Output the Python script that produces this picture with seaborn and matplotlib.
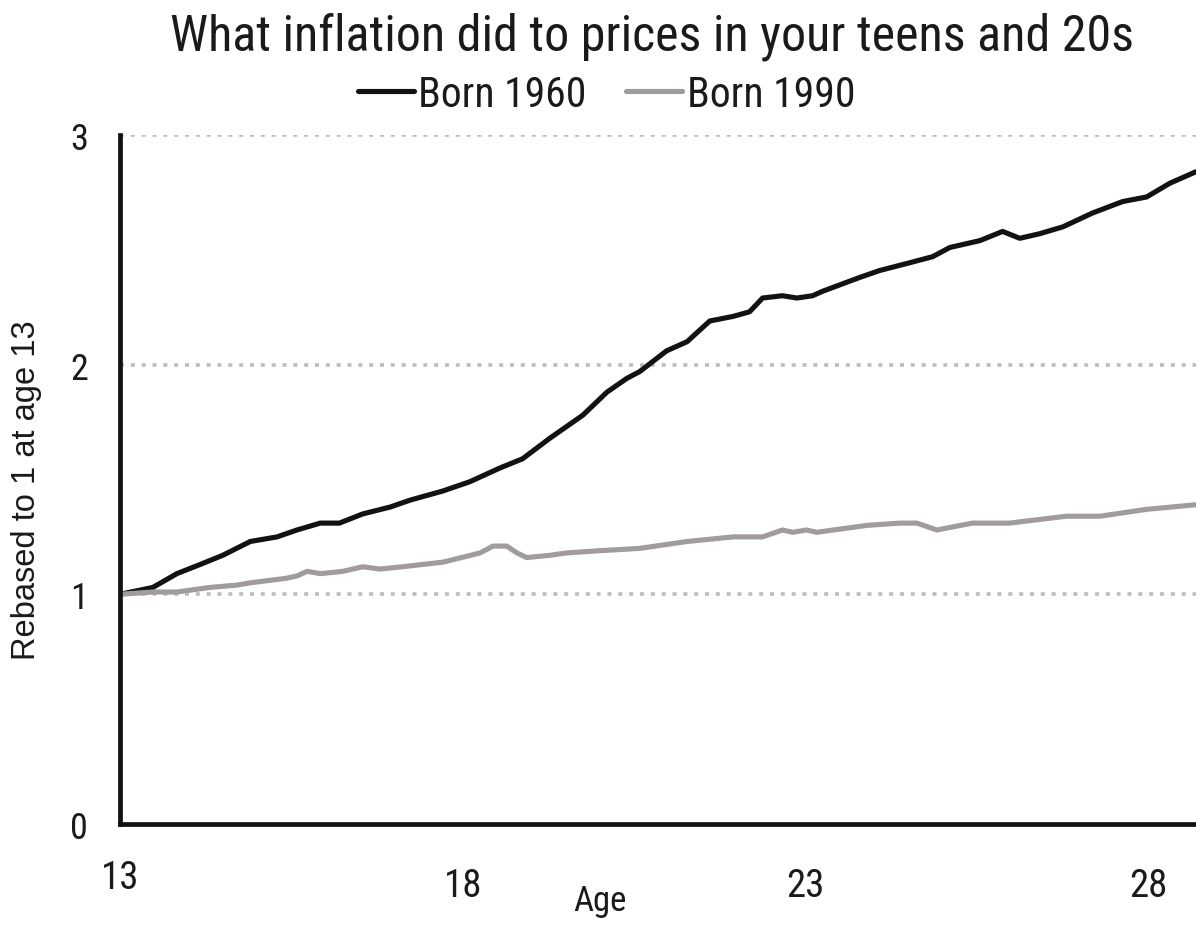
import pandas as pd
import numpy as np
import seaborn as sns
import matplotlib.pyplot as plt
import matplotlib.transforms as mtransforms

# Values (age in years, price level rebased to 1 at age 13)
age_1960 = [13.0, 13.48, 13.83, 14.17, 14.5, 14.9, 15.29, 15.58, 15.92, 16.2,
            16.54, 16.94, 17.23, 17.71, 18.1, 18.54, 18.87, 19.27, 19.75, 20.1,
            20.39, 20.58, 20.97, 21.27, 21.6, 21.94, 22.18, 22.37, 22.66, 22.87,
            23.1, 23.25, 23.79, 24.08, 24.47, 24.85, 25.1, 25.54, 25.87, 26.12,
            26.41, 26.75, 27.18, 27.62, 27.97, 28.31, 28.69]
born_1960 = [1.0, 1.03, 1.09, 1.13, 1.17, 1.23, 1.25, 1.28, 1.31, 1.31,
             1.35, 1.38, 1.41, 1.45, 1.49, 1.55, 1.59, 1.68, 1.78, 1.88,
             1.94, 1.97, 2.06, 2.10, 2.19, 2.21, 2.23, 2.29, 2.30, 2.29,
             2.30, 2.32, 2.38, 2.41, 2.44, 2.47, 2.51, 2.54, 2.58, 2.55,
             2.57, 2.60, 2.66, 2.71, 2.73, 2.79, 2.84]

age_1990 = [13.0, 13.48, 13.83, 14.31, 14.7, 14.9, 15.43, 15.58, 15.73, 15.92,
            16.25, 16.54, 16.79, 17.12, 17.71, 18.25, 18.44, 18.64, 18.79, 18.93,
            19.27, 19.51, 20.0, 20.58, 21.27, 21.94, 22.37, 22.66, 22.81, 23.01,
            23.16, 23.89, 24.37, 24.62, 24.91, 25.43, 25.97, 26.8, 27.29, 27.97,
            28.69]
born_1990 = [1.0, 1.01, 1.01, 1.03, 1.04, 1.05, 1.07, 1.08, 1.10, 1.09,
             1.10, 1.12, 1.11, 1.12, 1.14, 1.18, 1.21, 1.21, 1.18, 1.16,
             1.17, 1.18, 1.19, 1.20, 1.23, 1.25, 1.25, 1.28, 1.27, 1.28,
             1.27, 1.30, 1.31, 1.31, 1.28, 1.31, 1.31, 1.34, 1.34, 1.37,
             1.39]

series_names = ["Born 1960", "Born 1990"]
x_ticks = [13, 18, 23, 28]
y_ticks = [0, 1, 2, 3]

df = pd.concat([
    pd.DataFrame({"age": age_1960, "value": born_1960, "series": series_names[0]}),
    pd.DataFrame({"age": age_1990, "value": born_1990, "series": series_names[1]}),
])

sns.set_theme(style="white")
plt.rcParams["font.family"] = ["Roboto Condensed", "Liberation Sans Narrow",
                               "Roboto", "DejaVu Sans"]
text_color = "#1a1a1a"

fig = plt.figure(figsize=(11.96, 9.28), dpi=100)
ax = fig.add_axes([0.1003, 0.111, 0.8997, 0.7425])

# Dotted gridlines at 1, 2, 3
for yv in y_ticks[1:]:
    ax.axhline(yv, color="#bdbdbd", linewidth=2.6, linestyle=(0, (1.1, 1.9)),
               dash_capstyle="butt", zorder=0)

sns.lineplot(data=df, x="age", y="value", hue="series", hue_order=series_names,
             palette=["#121212", "#a09c9b"], linewidth=3.7, sort=True,
             estimator=None, ax=ax)

ax.set_xlim(13, 28.69)
ax.set_ylim(0, 3)
ax.set_xticks(x_ticks)
ax.set_yticks(y_ticks)
ax.grid(False)

for side in ["top", "right"]:
    ax.spines[side].set_visible(False)
for side in ["left", "bottom"]:
    ax.spines[side].set_color("#111111")
    ax.spines[side].set_linewidth(3.4)
    ax.spines[side].set_capstyle("projecting")

ax.tick_params(axis="x", length=0, pad=31, labelsize=28, labelcolor=text_color)
ax.tick_params(axis="y", length=0, pad=23, labelsize=26, labelcolor=text_color)

# first x label sits a little higher in the original
first = ax.xaxis.get_major_ticks()[0].label1
first.set_transform(first.get_transform() +
                    mtransforms.ScaledTranslation(0, 8 / 100, fig.dpi_scale_trans))

ax.set_xlabel("Age", fontsize=25, color=text_color)
ax.xaxis.set_label_coords(0.446, -0.087)
ax.set_ylabel("Rebased to 1 at age 13", fontsize=23.5, color=text_color,
              family=["Liberation Sans", "DejaVu Sans"])
ax.yaxis.set_label_coords(-0.072, 0.486)

fig.text(0.545, 0.960, "What inflation did to prices in your teens and 20s",
         ha="center", va="center", fontsize=36, color=text_color)

sns.move_legend(ax, "center", bbox_to_anchor=(0.507, 0.8976),
                bbox_transform=fig.transFigure, ncol=2, frameon=False,
                title=None, fontsize=30, handlelength=1.35, handletextpad=0.1,
                columnspacing=0.95)
for txt in ax.get_legend().get_texts():
    txt.set_color(text_color)

fig.savefig("out.png", dpi=100)
